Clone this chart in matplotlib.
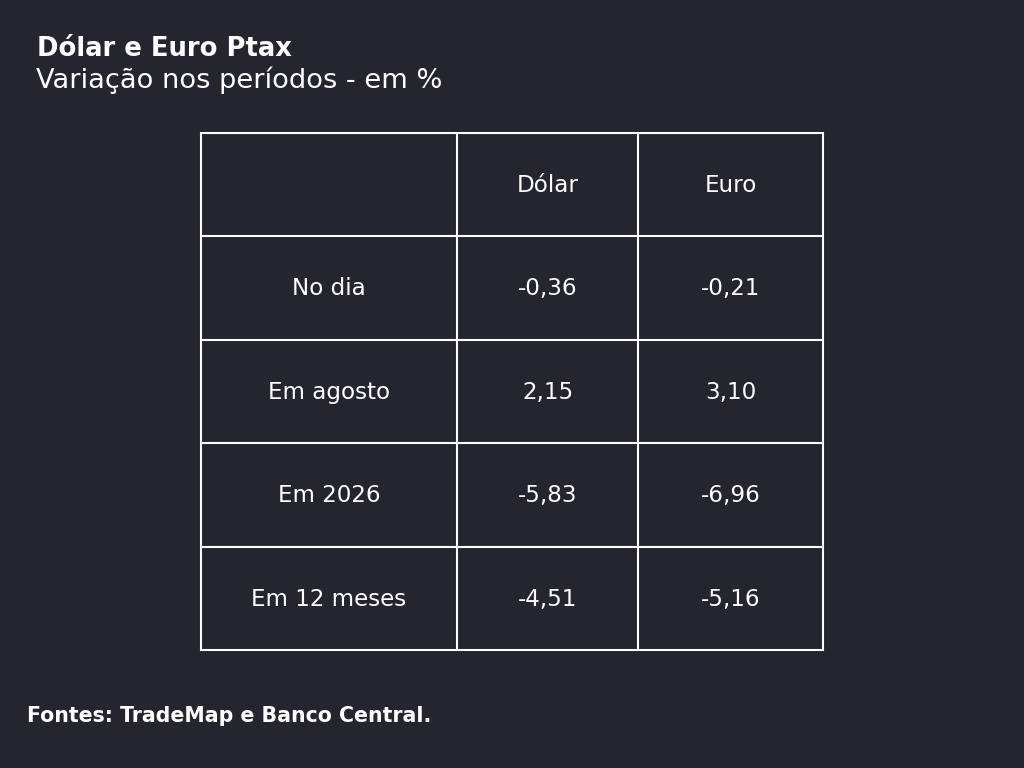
import matplotlib.pyplot as plt

# dados da tabela
col_labels = ["", "Dólar", "Euro"]
row_labels = ["No dia", "Em agosto", "Em 2026", "Em 12 meses"]
dolar = ["-0,36", "2,15", "-5,83", "-4,51"]
euro = ["-0,21", "3,10", "-6,96", "-5,16"]

title = "Dólar e Euro Ptax"
subtitle = "Variação nos períodos - em %"
source = "Fontes: TradeMap e Banco Central."

bg = "#25252f"
W, H = 1024, 768

plt.rcParams['font.family'] = ['DejaVu Sans']

fig = plt.figure(figsize=(W / 100, H / 100), dpi=100, facecolor=bg)
ax = fig.add_axes([0, 0, 1, 1])
ax.set_facecolor(bg)
ax.set_xlim(0, W)
ax.set_ylim(H, 0)
ax.axis("off")

ax.text(37, 56, title, color="white", fontsize=18.6, fontweight="bold", va="baseline", ha="left")
ax.text(36, 88.5, subtitle, color="white", fontsize=19.6, va="baseline", ha="left")
ax.text(27, 722, source, color="white", fontsize=14.8, fontweight="bold", va="baseline", ha="left")

cells = [col_labels]
for r, d, e in zip(row_labels, dolar, euro):
    cells.append([r, d, e])

# grade da tabela (pixels)
x_edges = [201, 457, 638, 823]
y0, y1 = 133, 650
n_rows = len(cells)
row_h = (y1 - y0) / n_rows
y_edges = [y0 + i * row_h for i in range(n_rows + 1)]

ax.hlines(y_edges, x_edges[0] - 1, x_edges[-1] + 1, color="white", lw=1.5)
ax.vlines(x_edges, y0 - 1, y1 + 1, color="white", lw=1.5)

for i, row in enumerate(cells):
    base = y_edges[i] + 59
    for j, txt in enumerate(row):
        xc = (x_edges[j] + x_edges[j + 1]) / 2
        ax.text(xc, base, txt, color="white", fontsize=16.6,
                ha="center", va="baseline")

fig.savefig("out.png", dpi=100, facecolor=bg)
